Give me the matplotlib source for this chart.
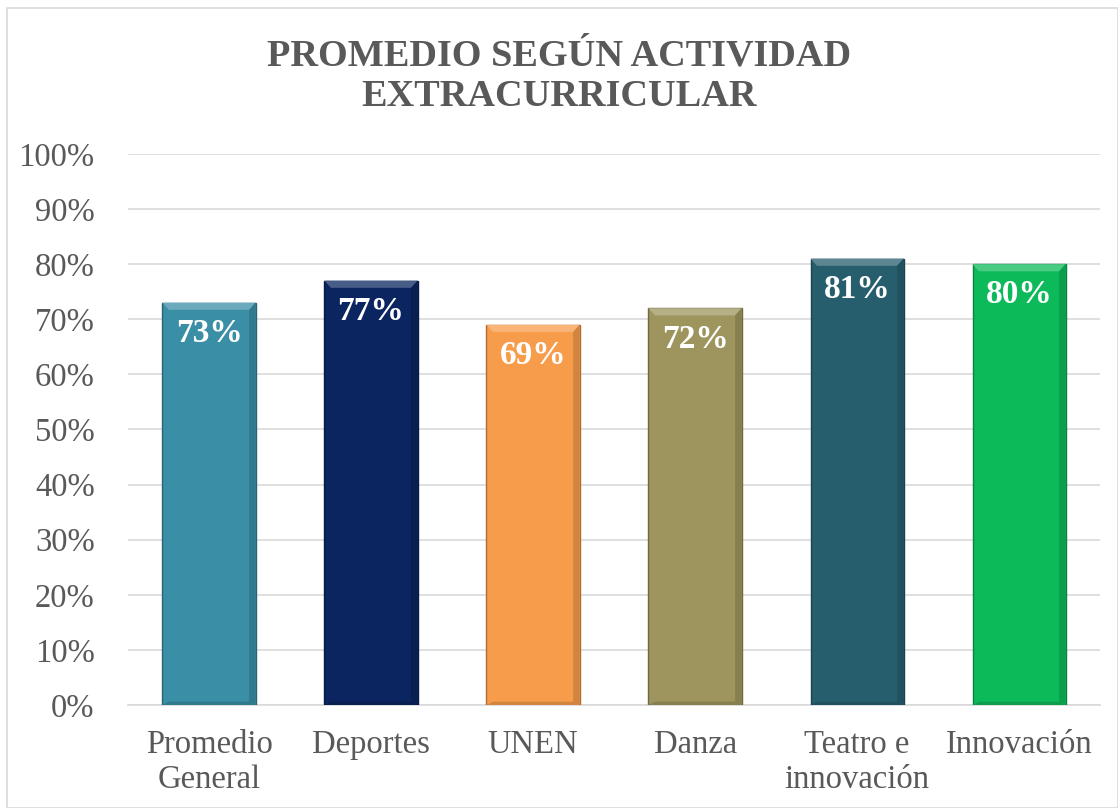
import numpy as np
import matplotlib.pyplot as plt
from matplotlib.patches import Rectangle, Polygon
from matplotlib.colors import to_rgb

categorias = ['Promedio\nGeneral', 'Deportes', 'UNEN', 'Danza', 'Teatro e\ninnovación', 'Innovación']
valores = [73, 77, 69, 72, 81, 80]
colores = ['#3A8EA5', '#0B2560', '#F79C4A', '#9E955E', '#275E6E', '#0DBA5A']

plt.rcParams['font.family'] = ['Liberation Serif', 'DejaVu Serif']

fig = plt.figure(figsize=(11.18, 8.08), dpi=100)
ax = fig.add_axes([0.1145, 0.1275, 0.8695, 0.682])

x = np.arange(len(categorias))
def shade(c, f):
    r, g, b = to_rgb(c)
    if f < 1:
        return (r * f, g * f, b * f)
    t = f - 1
    return (r + (1 - r) * t, g + (1 - g) * t, b + (1 - b) * t)

bars = ax.bar(x, valores, width=0.575, color=colores,
              edgecolor=[shade(c, 0.7) for c in colores], linewidth=1.0, zorder=3)

# bevel: light trapezoid on top, darker sides
for b, c in zip(bars, colores):
    x0, w, h = b.get_x(), b.get_width(), b.get_height()
    d = 0.04
    ax.add_patch(Polygon([(x0, h), (x0 + w, h), (x0 + w - d, h - 1.3), (x0 + d, h - 1.3)],
                         closed=True, color=shade(c, 1.25), zorder=4, linewidth=0))
    ax.add_patch(Polygon([(x0 + w, h), (x0 + w, 0), (x0 + w - d, 0.6), (x0 + w - d, h - 1.3)],
                         closed=True, color=shade(c, 0.85), zorder=4, linewidth=0))
    ax.add_patch(Polygon([(x0, 0), (x0 + w, 0), (x0 + w - d, 0.6), (x0 + d, 0.6)],
                         closed=True, color=shade(c, 0.85), zorder=4, linewidth=0))
    ax.text(x0 + w / 2, h - 5.6, f'{h:.0f}%',
            ha='center', va='center', color='white', fontsize=24, fontweight='bold', zorder=5)

ax.set_xlim(-0.5, len(categorias) - 0.5)
ax.set_ylim(0, 100)
ax.set_yticks(np.arange(0, 101, 10))
ax.set_yticklabels([f'{v}%' for v in range(0, 101, 10)])
ax.set_xticks(x)
ax.set_xticklabels(categorias, linespacing=1.15)
ax.tick_params(axis='both', length=0, labelsize=23.5, colors='#595959')
ax.tick_params(axis='y', pad=24)
ax.tick_params(axis='x', pad=18)
ax.grid(axis='y', color='#D9D9D9', linewidth=1.2, zorder=0)
for s in ['top', 'right', 'left']:
    ax.spines[s].set_visible(False)
ax.spines['bottom'].set_color('#D9D9D9')
ax.spines['bottom'].set_linewidth(1.2)

fig.text(0.5, 0.906, 'PROMEDIO SEGÚN ACTIVIDAD\nEXTRACURRICULAR', ha='center', va='center',
         fontsize=27.5, fontweight='bold', color='#595959', linespacing=1.2)

fig.patches.append(Rectangle((0.006, 0.0), 0.994, 0.99, transform=fig.transFigure,
                             fill=False, edgecolor='#D9D9D9', linewidth=1.2))

fig.savefig('out.png', dpi=100)
